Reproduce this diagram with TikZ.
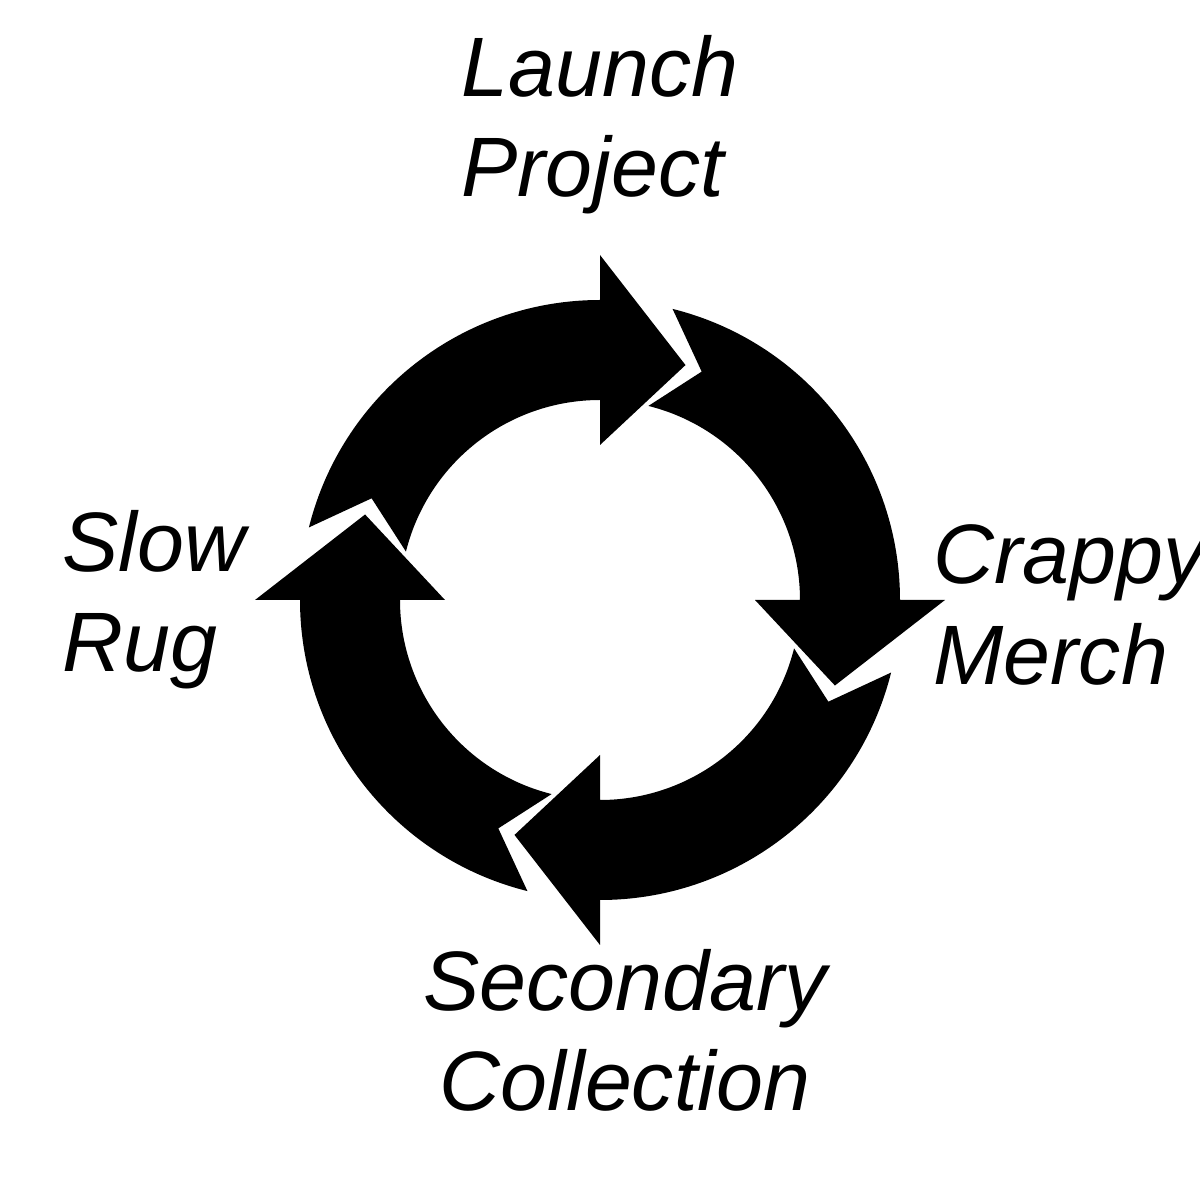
\documentclass[tikz,border=0pt]{standalone}
\usepackage{fontspec}
\setmainfont{Liberation Sans}
\usetikzlibrary{positioning}

\tikzset{
    step label/.style={font=\fontsize{24}{28.5}\selectfont\itshape, inner sep=0pt},
}

\begin{document}
\begin{tikzpicture}
        \useasboundingbox (0, 0) rectangle (12, 12);
        \fill[white] (0, 0) rectangle (12, 12);
        \coordinate (c) at (6, 6);

        % four arrows, tips at these angles, going clockwise
        \begin{scope}[shift={(c)}]
        \foreach \t in {70, -20, -110, 160} {
            \pgfmathsetmacro{\b}{\t+20}
            \pgfmathsetmacro{\s}{\t+90+10-4}
            \pgfmathsetmacro{\n}{\t+90-4}
            \fill[black] (\s:3.0) arc[start angle=\s, end angle=\b, radius=3.0]
                -- (\b:3.45) -- (\t:2.5) -- (\b:1.55) -- (\b:2.0)
                arc[start angle=\b, end angle=\s, radius=2.0]
                -- (\n:2.5) -- cycle;
        }
        \end{scope}

        \node[step label, align=left] (launch) at (6.0, 10.75) {Launch\\Project};
        \node[step label, align=left, anchor=west] (merch) at (9.33, 5.95) {Crappy\\Merch};
        \node[step label, align=center] (secondary) at (6.25, 1.7) {Secondary\\Collection};
        \node[step label, align=left, anchor=west] (rug) at (0.62, 6.0) {Slow\\Rug};
    \end{tikzpicture}
\end{document}
